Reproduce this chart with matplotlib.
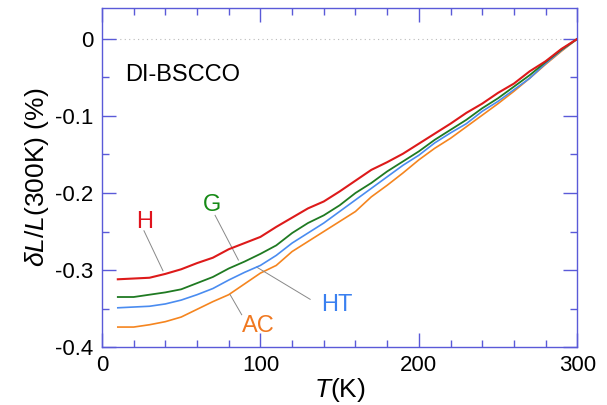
import matplotlib.pyplot as plt
from matplotlib.ticker import MultipleLocator, FuncFormatter

plt.rcParams['font.family'] = ['Liberation Sans', 'DejaVu Sans']
plt.rcParams['mathtext.fontset'] = 'custom'
plt.rcParams['mathtext.rm'] = 'Liberation Sans'
plt.rcParams['mathtext.it'] = 'Liberation Sans:italic'

# temperature (K)
temps = [10, 20, 30, 40, 50, 60, 70, 80, 90, 100, 110, 120, 130, 140, 150,
         160, 170, 180, 190, 200, 210, 220, 230, 240, 250, 260, 270, 280, 290, 300]

# relative length change (%)
h_vals = [-0.312, -0.311, -0.310, -0.305, -0.299, -0.291, -0.284, -0.273, -0.265, -0.257,
          -0.244, -0.232, -0.220, -0.211, -0.198, -0.184, -0.170, -0.160, -0.149, -0.136,
          -0.123, -0.110, -0.096, -0.084, -0.070, -0.058, -0.042, -0.029, -0.013, 0.0]
g_vals = [-0.335, -0.335, -0.332, -0.329, -0.325, -0.317, -0.309, -0.298, -0.289, -0.279,
          -0.268, -0.252, -0.239, -0.229, -0.216, -0.200, -0.187, -0.172, -0.159, -0.146,
          -0.131, -0.118, -0.105, -0.090, -0.077, -0.062, -0.047, -0.030, -0.014, 0.0]
ht_vals = [-0.349, -0.348, -0.347, -0.344, -0.339, -0.332, -0.324, -0.313, -0.303, -0.294,
           -0.281, -0.265, -0.252, -0.239, -0.224, -0.209, -0.194, -0.179, -0.164, -0.151,
           -0.135, -0.122, -0.110, -0.094, -0.081, -0.066, -0.051, -0.032, -0.015, 0.0]
ac_vals = [-0.374, -0.374, -0.371, -0.367, -0.361, -0.351, -0.341, -0.332, -0.318, -0.304,
           -0.294, -0.276, -0.263, -0.250, -0.237, -0.224, -0.205, -0.190, -0.174, -0.157,
           -0.142, -0.129, -0.114, -0.099, -0.084, -0.068, -0.051, -0.033, -0.016, 0.0]

axis_col = '#5a5ad8'
red, green, blue, orange = '#dd1a1a', '#1f7a22', '#4a8cf0', '#f5851f'

fig = plt.figure(figsize=(6.07, 4.05), dpi=100)
ax = fig.add_axes([0.168, 0.143, 0.783, 0.837])

ax.axhline(0, color='#bbbbbb', lw=0.8, ls=(0, (1, 3)), zorder=1)

ax.plot(temps, ac_vals, color=orange, lw=1.2, zorder=2)
ax.plot(temps, ht_vals, color=blue, lw=1.2, zorder=3)
ax.plot(temps, g_vals, color=green, lw=1.3, zorder=4)
ax.plot(temps, h_vals, color=red, lw=1.5, zorder=5)

# labels with leader lines
lab_size = 17
ax.text(27, -0.238, 'H', color='#e0141e', fontsize=lab_size, ha='center', va='center')
ax.plot([26.5, 38.5], [-0.249, -0.301], color='#888888', lw=0.7)
ax.text(69.5, -0.216, 'G', color='#168a16', fontsize=lab_size, ha='center', va='center')
ax.plot([71.4, 86.1], [-0.229, -0.287], color='#888888', lw=0.7)
ax.text(148, -0.345, 'HT', color='#3a80f0', fontsize=lab_size, ha='center', va='center')
ax.plot([97.5, 131.4], [-0.296, -0.338], color='#888888', lw=0.7)
ax.text(98.5, -0.372, 'AC', color='#f07820', fontsize=lab_size, ha='center', va='center')
ax.plot([80.9, 88.2], [-0.332, -0.358], color='#888888', lw=0.7)

ax.text(14.5, -0.047, 'DI-BSCCO', fontsize=17, ha='left', va='center')

ax.set_xlim(0, 300)
ax.set_ylim(-0.4, 0.04)
ax.xaxis.set_major_locator(MultipleLocator(100))
ax.xaxis.set_minor_locator(MultipleLocator(20))
ax.yaxis.set_major_locator(MultipleLocator(0.1))
ax.yaxis.set_minor_locator(MultipleLocator(0.05))
ax.yaxis.set_major_formatter(FuncFormatter(lambda v, p: '0' if abs(v) < 1e-9 else ('%g' % v)))

ax.tick_params(which='both', direction='in', top=True, right=True,
               color=axis_col, labelsize=16)
ax.tick_params(which='major', length=10, width=1.0, pad=6)
ax.tick_params(which='minor', length=5, width=1.0)
for s in ax.spines.values():
    s.set_color(axis_col)
    s.set_linewidth(1.0)

ax.set_xlabel('$T$(K)', fontsize=19, labelpad=0)
ax.set_ylabel(r'$\delta L/L$(300K) (%)', fontsize=19, labelpad=3)

plt.savefig('out.png', dpi=100)
plt.close()
